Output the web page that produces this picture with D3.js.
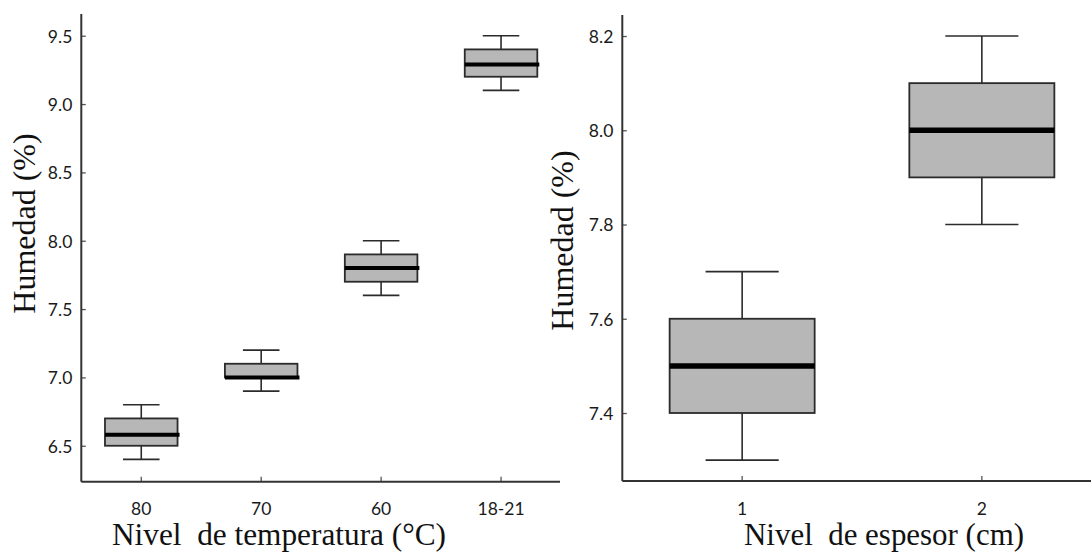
<!DOCTYPE html>
<html>
<head>
<meta charset="utf-8">
<script src="https://cdn.jsdelivr.net/npm/d3@7"></script>
<style>
  html, body { margin: 0; padding: 0; background: #fff; }
  svg { display: block; }
</style>
</head>
<body>
<svg id="chart" width="1091" height="553"></svg>
<script>
// ---- Data: panel 1 (temperature) ----
const tempCategories = ["80", "70", "60", "18-21"];
const tempMin    = [6.40, 6.90, 7.60, 9.10];
const tempQ1     = [6.50, 7.00, 7.70, 9.20];
const tempMedian = [6.58, 7.00, 7.80, 9.29];
const tempQ3     = [6.70, 7.10, 7.90, 9.40];
const tempMax    = [6.80, 7.20, 8.00, 9.50];
const tempTicks  = [6.5, 7.0, 7.5, 8.0, 8.5, 9.0, 9.5];
const tempDomain = [6.237, 9.659];

// ---- Data: panel 2 (thickness) ----
const espCategories = ["1", "2"];
const espMin    = [7.30, 7.80];
const espQ1     = [7.40, 7.90];
const espMedian = [7.50, 8.00];
const espQ3     = [7.60, 8.10];
const espMax    = [7.70, 8.20];
const espTicks  = [7.4, 7.6, 7.8, 8.0, 8.2];
const espDomain = [7.2557, 8.2446];

const yTitle = "Humedad (%)";
const xTitleTemp = "Nivel\u00A0 de temperatura (°C)";
const xTitleEsp = "Nivel\u00A0 de espesor (cm)";

const svg = d3.select("#chart");

function panel(cfg) {
  const g = svg.append("g");
  const x = d3.scaleBand().domain(cfg.cats).range(cfg.xRange).paddingInner(0).paddingOuter(0);
  const y = d3.scaleLinear().domain(cfg.domain).range(cfg.yRange);
  const bw = x.bandwidth();
  const boxW = bw * 0.605;
  const capW = bw * 0.305;

  const rows = cfg.cats.map((c, i) => ({
    c, min: cfg.min[i], q1: cfg.q1[i], med: cfg.med[i], q3: cfg.q3[i], max: cfg.max[i]
  }));

  const stroke = "#2b2b2b";
  const boxes = g.selectAll("g.box").data(rows).enter().append("g").attr("class", "box");
  const cx = d => x(d.c) + bw / 2;

  // whiskers
  boxes.append("line")
    .attr("x1", cx).attr("x2", cx)
    .attr("y1", d => y(d.max)).attr("y2", d => y(d.q3))
    .attr("stroke", stroke).attr("stroke-width", 1.6);
  boxes.append("line")
    .attr("x1", cx).attr("x2", cx)
    .attr("y1", d => y(d.q1)).attr("y2", d => y(d.min))
    .attr("stroke", stroke).attr("stroke-width", 1.6);
  // caps
  boxes.append("line")
    .attr("x1", d => cx(d) - capW / 2).attr("x2", d => cx(d) + capW / 2)
    .attr("y1", d => y(d.max)).attr("y2", d => y(d.max))
    .attr("stroke", stroke).attr("stroke-width", 1.6);
  boxes.append("line")
    .attr("x1", d => cx(d) - capW / 2).attr("x2", d => cx(d) + capW / 2)
    .attr("y1", d => y(d.min)).attr("y2", d => y(d.min))
    .attr("stroke", stroke).attr("stroke-width", 1.6);
  // box
  boxes.append("rect")
    .attr("x", d => cx(d) - boxW / 2)
    .attr("width", boxW)
    .attr("y", d => y(d.q3))
    .attr("height", d => y(d.q1) - y(d.q3))
    .attr("fill", "#b7b7b7")
    .attr("stroke", stroke).attr("stroke-width", 1.8);
  // median
  boxes.append("line")
    .attr("x1", d => cx(d) - boxW / 2).attr("x2", d => cx(d) + boxW / 2 + cfg.medOver)
    .attr("y1", d => y(d.med)).attr("y2", d => y(d.med))
    .attr("stroke", "#000").attr("stroke-width", cfg.medW);

  // axes
  const axisColor = "#333";
  const yAxis = d3.axisLeft(y).tickValues(cfg.ticks).tickFormat(d3.format(".1f")).tickSize(-4.5).tickPadding(9);
  const ya = g.append("g").attr("transform", `translate(${cfg.xRange[0]},0)`).call(yAxis);
  ya.select(".domain").remove();
  ya.append("line").attr("x1", 0).attr("x2", 0).attr("y1", cfg.yRange[1]).attr("y2", cfg.yRange[0])
    .attr("stroke", axisColor).attr("stroke-width", 2);
  ya.selectAll(".tick line").attr("stroke", "#555").attr("stroke-width", 1.3);
  ya.selectAll(".tick text").attr("font-family", "Lato, 'Open Sans', sans-serif").attr("font-size", 17.5)
    .attr("fill", "#1a1a1a").attr("dy", "0.36em");

  const xAxis = d3.axisBottom(x).tickSize(-5).tickPadding(0);
  const xa = g.append("g").attr("transform", `translate(0,${cfg.yRange[0]})`).call(xAxis);
  xa.select(".domain").remove();
  xa.append("line").attr("x1", cfg.xRange[0]).attr("x2", cfg.xAxisEnd).attr("y1", 0).attr("y2", 0)
    .attr("stroke", axisColor).attr("stroke-width", 2);
  xa.selectAll(".tick line").attr("stroke", "#555").attr("stroke-width", 1.3);
  xa.selectAll(".tick text").attr("font-family", "Lato, 'Open Sans', sans-serif").attr("font-size", 17.5)
    .attr("fill", "#1a1a1a").attr("y", cfg.xLabelY).attr("dy", 0);

  // titles
  g.append("text")
    .attr("x", cfg.xTitleX).attr("y", 545)
    .attr("font-family", "'Liberation Serif', 'Times New Roman', serif")
    .attr("font-size", 31).attr("fill", "#111")
    .attr("textLength", cfg.xTitleLen).attr("lengthAdjust", "spacingAndGlyphs")
    .text(cfg.xTitle);
  g.append("text")
    .attr("transform", `translate(${cfg.yTitleX},${cfg.yTitleY}) rotate(-90)`)
    .attr("text-anchor", "middle")
    .attr("font-family", "'Liberation Serif', 'Times New Roman', serif")
    .attr("font-size", 32).attr("fill", "#111")
    .text(yTitle);
}

panel({
  cats: tempCategories, min: tempMin, q1: tempQ1, med: tempMedian, q3: tempQ3, max: tempMax,
  ticks: tempTicks, domain: tempDomain,
  xRange: [81.3, 561], yRange: [481.7, 14], xAxisEnd: 560,
  medW: 4, medOver: 2, xLabelY: 33,
  xTitle: xTitleTemp, xTitleX: 112, xTitleLen: 334,
  yTitleX: 35, yTitleY: 223.5
});

panel({
  cats: espCategories, min: espMin, q1: espQ1, med: espMedian, q3: espQ3, max: espMax,
  ticks: espTicks, domain: espDomain,
  xRange: [622.3, 1101.7], yRange: [481, 15], xAxisEnd: 1091,
  medW: 5.5, medOver: 0, xLabelY: 34,
  xTitle: xTitleEsp, xTitleX: 744, xTitleLen: 280,
  yTitleX: 573, yTitleY: 240.5
});
</script>
</body>
</html>
